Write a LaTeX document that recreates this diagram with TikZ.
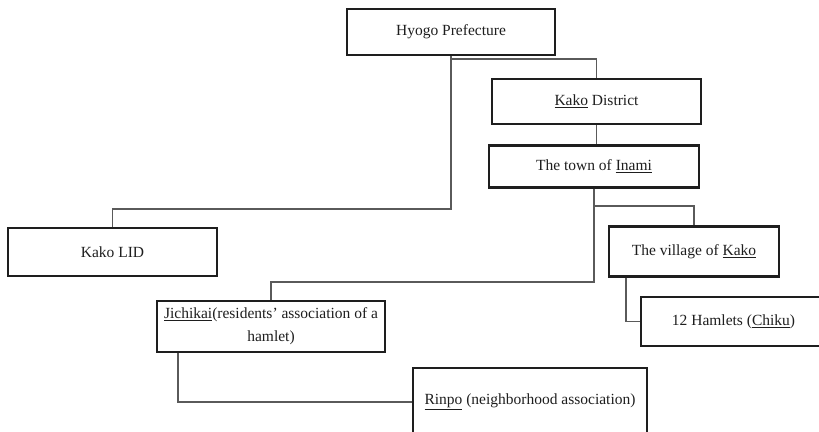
\documentclass[tikz,border=0pt]{standalone}
\usepackage{fontspec}
\setmainfont{Liberation Serif}
\definecolor{boxLine}{RGB}{30, 30, 30}
\definecolor{linkLine}{RGB}{90, 90, 90}
\definecolor{labelText}{RGB}{30, 30, 30}
\newcommand{\romaji}[1]{\underline{#1}}

\begin{document}
\begin{tikzpicture}[
  x=1pt, y=-1pt,
  box/.style={
    rectangle,
    draw=boxLine,
    fill=white,
    line width=2.2pt,
    inner sep=4pt,
    align=center,
    text=labelText,
    font=\fontsize{15.5}{23}\selectfont
  },
  link/.style={draw=linkLine, line width=1.8pt}
]
  \useasboundingbox (0,0) rectangle (819,431);
  \clip (0,0) rectangle (819,431);

  % ── Boxes ──────────────────────────────────────────────────────
  \node[box, minimum width=208, minimum height=46] (hyogo)    at (451, 32)      {Hyogo Prefecture};
  \node[box, minimum width=209, minimum height=45] (district) at (596.5, 101.5) {\romaji{Kako} District};
  \node[box, minimum width=210, minimum height=42] (inami)    at (594, 166.5)   {The town of \romaji{Inami}};
  \node[box, minimum width=209, minimum height=48] (lid)      at (112.5, 252)   {Kako LID};
  \node[box, minimum width=170, minimum height=50] (village)  at (694, 251.5)   {The village of \romaji{Kako}};
  \node[box, minimum width=228, minimum height=51] (jichikai) at (271, 326.5)
        {\romaji{Jichikai}(residents' association of a\\hamlet)};
  \node[box, minimum width=185, minimum height=49] (hamlets)  at (733.5, 321.5) {12 Hamlets (\romaji{Chiku})};
  \node[box, minimum width=234, minimum height=68] (rinpo)    at (530, 402)
        {\romaji{Rinpo} (neighborhood association)};

  % ── Connectors ─────────────────────────────────────────────────
  \draw[link] (hyogo.south)    -- ++(0,3)   -| (district.north);
  \draw[link] (hyogo.south)    -- ++(0,153) -| (lid.north);
  \draw[link] (district.south) -- (district.south |- inami.north);
  \draw[link] (inami.south)    -- ++(0,17)  -| (village.north);
  \draw[link] (inami.south)    -- ++(0,93)  -| (jichikai.north);
  \draw[link] (village.south west)  ++(18,0) |- (hamlets.west);
  \draw[link] (jichikai.south west) ++(22,0) |- (rinpo.west);

\end{tikzpicture}
\end{document}
